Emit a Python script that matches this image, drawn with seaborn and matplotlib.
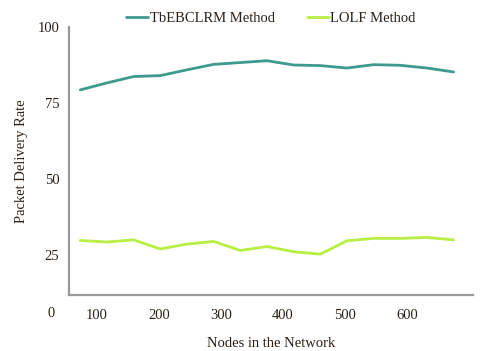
import matplotlib
matplotlib.use("Agg")
import matplotlib.pyplot as plt
import numpy as np
import pandas as pd
import seaborn as sns

# Values
nodes = [73, 116, 159, 202, 245, 288, 331, 374, 417, 460, 503, 546, 589, 632, 675]
tbebclrm = [79.3, 81.6, 83.7, 84.0, 85.9, 87.7, 88.3, 88.9, 87.5, 87.3, 86.5, 87.6, 87.4, 86.5, 85.2]
lolf = [29.7, 29.2, 29.9, 26.9, 28.5, 29.4, 26.4, 27.7, 26.0, 25.2, 29.6, 30.4, 30.4, 30.7, 29.9]
y_ticks = [25, 50, 75, 100]
x_ticks = [100, 200, 300, 400, 500, 600]

df = pd.concat([
    pd.DataFrame({"nodes": nodes, "rate": tbebclrm, "method": "TbEBCLRM Method"}),
    pd.DataFrame({"nodes": nodes, "rate": lolf, "method": "LOLF Method"}),
])

sns.set_theme(style="white")
plt.rcParams["font.family"] = ["Liberation Serif", "DejaVu Serif"]
text_color = "#2b2118"

fig = plt.figure(figsize=(4.8, 3.51), dpi=100)
ax = fig.add_axes([0.144, 0.16, 0.841, 0.763])

sns.lineplot(
    data=df, x="nodes", y="rate", hue="method",
    palette={"TbEBCLRM Method": "#3f9a8e", "LOLF Method": "#b8ef45"},
    linewidth=2, ax=ax,
)

ax.set_xlim(55, 706)
ax.set_ylim(11.8, 100)
ax.set_xticks(x_ticks)
ax.set_yticks(y_ticks)
ax.set_xticks(np.arange(57, 706, 43), minor=True)
ax.set_yticks([37.5, 62.5, 87.5], minor=True)
ax.tick_params(axis="both", which="both", direction="out", length=3, width=1,
               color="#888888", labelsize=10.5, labelcolor=text_color)
ax.tick_params(axis="y", pad=4)
ax.tick_params(axis="x", pad=7)

for side in ["top", "right"]:
    ax.spines[side].set_visible(False)
for side in ["left", "bottom"]:
    ax.spines[side].set_color("#999999")
    ax.spines[side].set_linewidth(1.6)

# the lone "0" label below the axis
ax.text(-0.045, -0.068, "0", transform=ax.transAxes, ha="center", va="center",
        fontsize=10.5, color=text_color)

ax.set_xlabel("Nodes in the Network", fontsize=10.5, color=text_color, labelpad=11)
ax.set_ylabel("Packet Delivery Rate", fontsize=10.5, color=text_color, labelpad=7)

ax.legend(loc="lower center", bbox_to_anchor=(0.5, 0.985), ncol=2, frameon=False,
          fontsize=10.5, handlelength=1.5, handletextpad=0.1, columnspacing=2.2,
          labelcolor=text_color, borderaxespad=0.0)

fig.savefig("out.png", dpi=100)
